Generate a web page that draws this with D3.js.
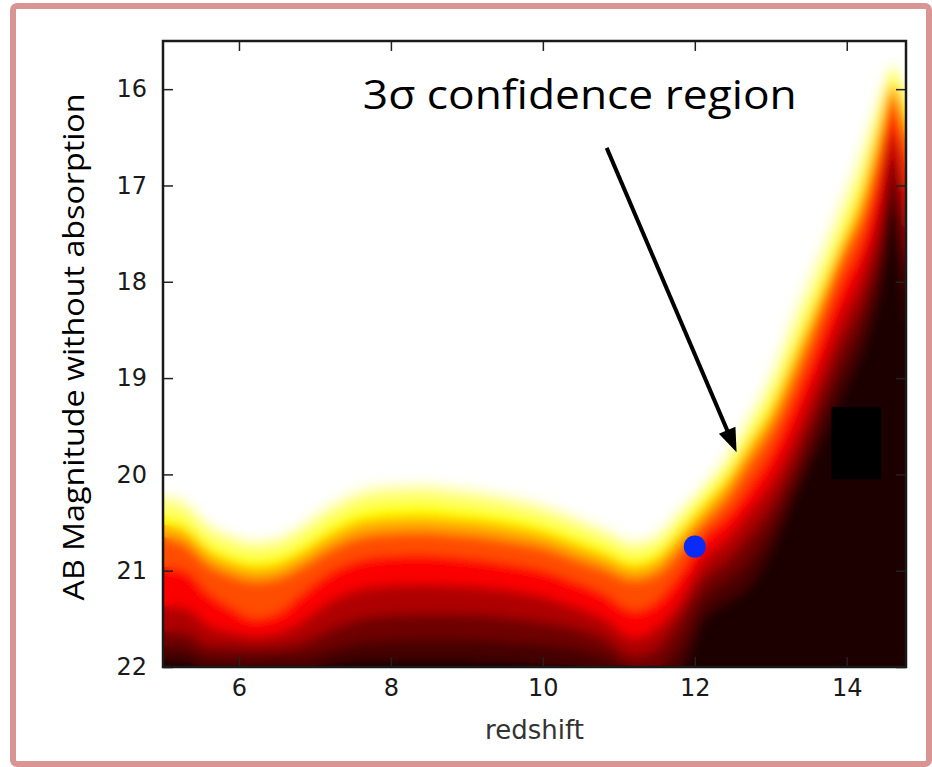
<!DOCTYPE html>
<html>
<head>
<meta charset="utf-8">
<script src="https://cdn.jsdelivr.net/npm/d3@7"></script>
<style>
  body { margin: 0; background: #fff; }
  svg { display: block; }
</style>
</head>
<body>
<script>
// ---- data ----
// redshift samples across the map
var redshift = [5.0, 5.3, 5.6, 5.9, 6.2, 6.5, 6.8, 7.2, 7.6, 8.0, 8.4, 8.8, 9.2, 9.6, 10.0,
                10.4, 10.8, 11.2, 11.5, 11.8, 12.1, 12.4, 12.7, 13.0, 13.3, 13.6, 13.9, 14.2, 14.45, 14.6, 14.8];
// magnitude where the map stops being white (top of the 3 sigma band)
var whiteEdge = [20.18, 20.25, 20.48, 20.60, 20.66, 20.63, 20.50, 20.28, 20.13, 20.08, 20.07, 20.10, 20.14, 20.20, 20.28,
                 20.40, 20.53, 20.66, 20.58, 20.33, 20.08, 19.77, 19.35, 18.88, 18.25, 17.70, 17.13, 16.52, 15.95, 15.72, 16.00];
// how far (in mag) below the white edge each colour level sits
var depth1 = [0.08,0.08,0.07,0.06,0.06,0.06,0.07,0.08,0.08,0.08,0.08,0.08,0.08,0.08,0.08,0.07,0.07,0.07,0.08,0.08,0.08,0.10,0.12,0.17,0.21,0.21,0.21,0.21,0.12,0.06,0.16];
var depth2 = [0.23,0.23,0.21,0.20,0.19,0.19,0.21,0.22,0.22,0.22,0.22,0.22,0.22,0.21,0.21,0.20,0.19,0.19,0.19,0.19,0.16,0.21,0.26,0.33,0.42,0.42,0.42,0.42,0.26,0.15,0.31];
var depth3 = [0.34,0.34,0.32,0.31,0.31,0.31,0.33,0.35,0.36,0.37,0.37,0.36,0.35,0.34,0.33,0.32,0.31,0.30,0.30,0.30,0.28,0.32,0.36,0.46,0.54,0.54,0.54,0.57,0.39,0.23,0.47];
var depth4 = [0.47,0.47,0.45,0.44,0.44,0.44,0.46,0.49,0.51,0.52,0.52,0.51,0.50,0.49,0.47,0.46,0.44,0.43,0.44,0.44,0.42,0.47,0.52,0.62,0.73,0.69,0.65,0.75,0.57,0.33,0.67];
var depth5 = [0.78,0.75,0.75,0.78,0.83,0.81,0.75,0.73,0.75,0.76,0.76,0.75,0.74,0.73,0.71,0.70,0.70,0.75,0.73,0.69,0.57,0.67,0.78,0.88,0.99,0.96,0.93,1.02,0.83,0.50,1.04];
var depth6 = [1.19,1.14,1.09,1.04,1.02,1.02,1.04,1.04,1.06,1.07,1.07,1.05,1.03,1.01,0.99,0.97,0.97,1.04,1.01,0.99,0.81,0.91,1.04,1.19,1.35,1.31,1.27,1.35,1.19,0.73,1.45];
var depth7 = [1.45,1.40,1.30,1.19,1.14,1.16,1.25,1.33,1.37,1.38,1.38,1.35,1.32,1.29,1.25,1.19,1.17,1.23,1.23,1.16,1.02,1.14,1.30,1.45,1.61,1.58,1.56,1.66,1.51,0.99,1.82];
var depth8 = [1.61,1.56,1.43,1.31,1.25,1.27,1.39,1.54,1.61,1.64,1.64,1.61,1.58,1.54,1.48,1.40,1.35,1.35,1.45,1.45,1.23,1.35,1.56,1.68,1.82,1.82,1.82,1.92,1.77,1.25,2.13];
var depth9 = [1.74,1.69,1.54,1.39,1.33,1.36,1.50,1.68,1.79,1.84,1.85,1.82,1.79,1.74,1.68,1.58,1.50,1.45,1.66,1.71,1.43,1.56,1.82,1.90,1.97,2.02,2.07,2.18,2.02,1.51,2.44];
// colour-map value of each level (white edge first)
var hotLevels = [0.95, 0.86, 0.75, 0.62, 0.48, 0.36, 0.25, 0.16, 0.10, 0.04];

var blackBoxZ = [13.8, 14.45];
var blackBoxMag = [19.3, 20.05];
var bestFitZ = 12.0, bestFitMag = 20.75;
var arrowZ = [10.84, 12.55], arrowMag = [16.61, 19.77];
var noteZ = 7.63, noteMag = 16.21;

var xTicks = [6, 8, 10, 12, 14];
var yTicks = [16, 17, 18, 19, 20, 21, 22];

// ---- layout ----
var width = 932, height = 767;
var plot = { left: 163, top: 41, right: 906, bottom: 667 };

var svg = d3.select("body").append("svg")
    .attr("width", width)
    .attr("height", height);

var x = d3.scaleLinear().domain([5, 14.78]).range([plot.left, plot.right]);
var y = d3.scaleLinear().domain([15.5, 22]).range([plot.top, plot.bottom]);

// matplotlib "hot" colormap
var hot = d3.scaleLinear()
    .domain([0, 0.365, 0.746, 1])
    .range(["#000000", "#ff0000", "#ffff00", "#ffffff"]);

var depths = [null, depth1, depth2, depth3, depth4, depth5, depth6, depth7, depth8, depth9];
var pts = redshift.map(function (z, i) { return { z: z, i: i }; });

var defs = svg.append("defs");
defs.append("clipPath").attr("id", "plotClip")
  .append("rect")
    .attr("x", plot.left).attr("y", plot.top)
    .attr("width", plot.right - plot.left).attr("height", plot.bottom - plot.top);
defs.append("filter").attr("id", "soft")
    .attr("x", "-5%").attr("y", "-5%").attr("width", "110%").attr("height", "110%")
  .append("feGaussianBlur").attr("stdDeviation", 5.5);

function drawMap(g) {
  g.append("rect")
    .attr("x", plot.left).attr("y", plot.top)
    .attr("width", plot.right - plot.left).attr("height", plot.bottom - plot.top)
    .attr("fill", "#fff");
  hotLevels.forEach(function (v, k) {
    var area = d3.area()
      .x(function (d) { return x(d.z); })
      .y0(y(22))
      .y1(function (d) {
        var m = whiteEdge[d.i] + (k ? depths[k][d.i] : 0);
        return y(Math.min(22, m));
      })
      .curve(d3.curveMonotoneX);
    g.append("path")
      .datum(pts)
      .attr("d", area)
      .attr("fill", hot(v));
  });
}

var mapG = svg.append("g").attr("clip-path", "url(#plotClip)");
drawMap(mapG.append("g"));
drawMap(mapG.append("g").attr("filter", "url(#soft)"));

// black box
mapG.append("rect")
    .attr("x", x(blackBoxZ[0]))
    .attr("y", y(blackBoxMag[0]))
    .attr("width", x(blackBoxZ[1]) - x(blackBoxZ[0]))
    .attr("height", y(blackBoxMag[1]) - y(blackBoxMag[0]))
    .attr("fill", "#000");

// best fit point
svg.append("circle")
    .attr("cx", x(bestFitZ))
    .attr("cy", y(bestFitMag))
    .attr("r", 11)
    .attr("fill", "#0a2af5");

// ---- axes ----
var tickColor = "#222";
function styleAxis(g) {
  g.select(".domain").remove();
  g.selectAll(".tick line").attr("stroke", tickColor).attr("stroke-width", 1.5);
  g.selectAll(".tick text")
    .attr("fill", "#1a1a1a")
    .style("font-family", "'DejaVu Sans', sans-serif")
    .style("font-size", "24px");
}

svg.append("g")
    .attr("transform", "translate(0," + plot.bottom + ")")
    .call(d3.axisBottom(x).tickValues(xTicks).tickFormat(d3.format("d"))
      .tickSizeInner(-10).tickSizeOuter(0).tickPadding(12))
    .call(styleAxis);
svg.append("g")
    .attr("transform", "translate(0," + plot.top + ")")
    .call(d3.axisTop(x).tickValues(xTicks).tickSizeInner(-10).tickSizeOuter(0).tickFormat(""))
    .call(styleAxis);
svg.append("g")
    .attr("transform", "translate(" + plot.left + ",0)")
    .call(d3.axisLeft(y).tickValues(yTicks).tickFormat(d3.format("d"))
      .tickSizeInner(-10).tickSizeOuter(0).tickPadding(16))
    .call(styleAxis);
svg.append("g")
    .attr("transform", "translate(" + plot.right + ",0)")
    .call(d3.axisRight(y).tickValues(yTicks).tickSizeInner(-10).tickSizeOuter(0).tickFormat(""))
    .call(styleAxis);

svg.append("rect")
    .attr("x", plot.left).attr("y", plot.top)
    .attr("width", plot.right - plot.left).attr("height", plot.bottom - plot.top)
    .attr("fill", "none")
    .attr("stroke", "#1a1a1a")
    .attr("stroke-width", 2.5);

// axis titles
svg.append("text")
    .attr("x", (plot.left + plot.right) / 2)
    .attr("y", 739)
    .attr("text-anchor", "middle")
    .attr("fill", "#333")
    .style("font-family", "'DejaVu Sans', sans-serif")
    .style("font-size", "26px")
    .text("redshift");

svg.append("text")
    .attr("transform", "translate(84,347) rotate(-90)")
    .attr("text-anchor", "middle")
    .attr("textLength", 507)
    .attr("lengthAdjust", "spacingAndGlyphs")
    .attr("fill", "#000")
    .style("font-family", "'Open Sans', sans-serif")
    .style("font-size", "30px")
    .text("AB Magnitude without absorption");

// ---- annotation ----
svg.append("text")
    .attr("x", x(noteZ))
    .attr("y", y(noteMag))
    .attr("textLength", 434)
    .attr("lengthAdjust", "spacingAndGlyphs")
    .attr("fill", "#000")
    .style("font-family", "'Open Sans', sans-serif")
    .style("font-size", "40px")
    .text("3σ confidence region");

var p0 = [x(arrowZ[0]), y(arrowMag[0])], p1 = [x(arrowZ[1]), y(arrowMag[1])];
var len = Math.hypot(p1[0] - p0[0], p1[1] - p0[1]);
var u = [(p1[0] - p0[0]) / len, (p1[1] - p0[1]) / len];
var n = [-u[1], u[0]];
var headLen = 24, headHalf = 9;
svg.append("line")
    .attr("x1", p0[0]).attr("y1", p0[1])
    .attr("x2", p1[0] - u[0] * 14).attr("y2", p1[1] - u[1] * 14)
    .attr("stroke", "#000")
    .attr("stroke-width", 4);
svg.append("path")
    .attr("d", d3.line()([
      p1,
      [p1[0] - u[0] * headLen + n[0] * headHalf, p1[1] - u[1] * headLen + n[1] * headHalf],
      [p1[0] - u[0] * headLen - n[0] * headHalf, p1[1] - u[1] * headLen - n[1] * headHalf]
    ]) + "Z")
    .attr("fill", "#000");

// slide frame
svg.append("rect")
    .attr("x", 13).attr("y", 6)
    .attr("width", 916).attr("height", 758)
    .attr("rx", 4)
    .attr("fill", "none")
    .attr("stroke", "#d99594")
    .attr("stroke-width", 6);
</script>
</body>
</html>
